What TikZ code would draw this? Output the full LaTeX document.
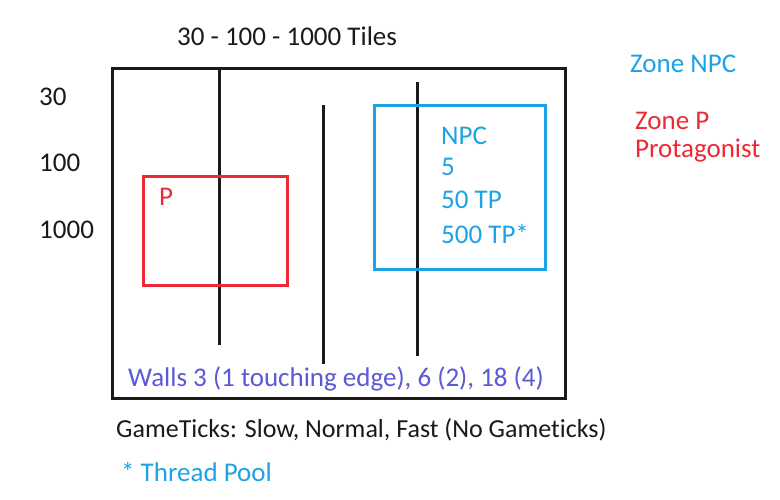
\documentclass[tikz,border=0pt]{standalone}
\usepackage{fontspec}
\setmainfont[Ligatures={NoCommon,NoContextual}]{Carlito}
\definecolor{npcblue}{HTML}{1BA3E6}
\definecolor{pred}{HTML}{EC2A36}
\definecolor{wallpurple}{HTML}{5A5AD6}
\definecolor{ink}{HTML}{1A1A1A}
\begin{document}
\begin{tikzpicture}[x=1pt,y=-1pt,
  lbl/.style={anchor=base west,inner sep=0pt,font=\fontsize{27}{32}\selectfont},
  wall/.style={line width=3pt,ink},
  zonebox/.style={line width=3pt}]
\useasboundingbox (0,0) rectangle (780,499);
\fill[white] (0,0) rectangle (780,499);
% outer area
\draw[line width=3pt,ink] (112,68) rectangle (565,398);
% walls
\coordinate (w1t) at (219,68); \coordinate (w1b) at (219,345);
\coordinate (w2t) at (323,105); \coordinate (w2b) at (323,364);
\coordinate (w3t) at (417,82); \coordinate (w3b) at (417,356);
\draw[wall] (w1t) -- (w1b);
\draw[wall] (w2t) -- (w2b);
\draw[wall] (w3t) -- (w3b);
% zones
\draw[zonebox,npcblue] (374,105) rectangle (545,269);
\draw[zonebox,pred] (143,176) rectangle (287,285);
% texts
\node[lbl,ink] (tiles) at (177,45) {30 - 100 - 1000 Tiles};
\node[lbl,ink] (r30) at (39,105) {30};
\node[lbl,ink] (r100) at (39,171) {100};
\node[lbl,ink] (r1000) at (39,238) {1000};
\node[lbl,pred] (p) at (159,205) {P};
\node[lbl,npcblue] (n1) at (441,144) {NPC};
\node[lbl,npcblue] (n2) at (441,175) {5};
\node[lbl,npcblue] (n3) at (441,208) {50 TP};
\node[lbl,npcblue] (n4) at (441,243) {500 TP*};
\node[lbl,npcblue] (znpc) at (630,72) {Zone NPC};
\node[lbl,pred] (zp) at (635,129) {Zone P};
\node[lbl,pred] (prot) at (635,157) {Protagonist};
\node[lbl,wallpurple] (walls) at (128,386) {Walls 3 (1 touching edge), 6 (2), 18 (4)};
\node[lbl,ink,font=\fontsize{26}{31}\selectfont] (gt) at (116,437) {GameTicks: Slow, Normal, Fast (No Gameticks)};
\node[lbl,npcblue] (tp) at (121,481) {* Thread Pool};
\end{tikzpicture}
\end{document}
